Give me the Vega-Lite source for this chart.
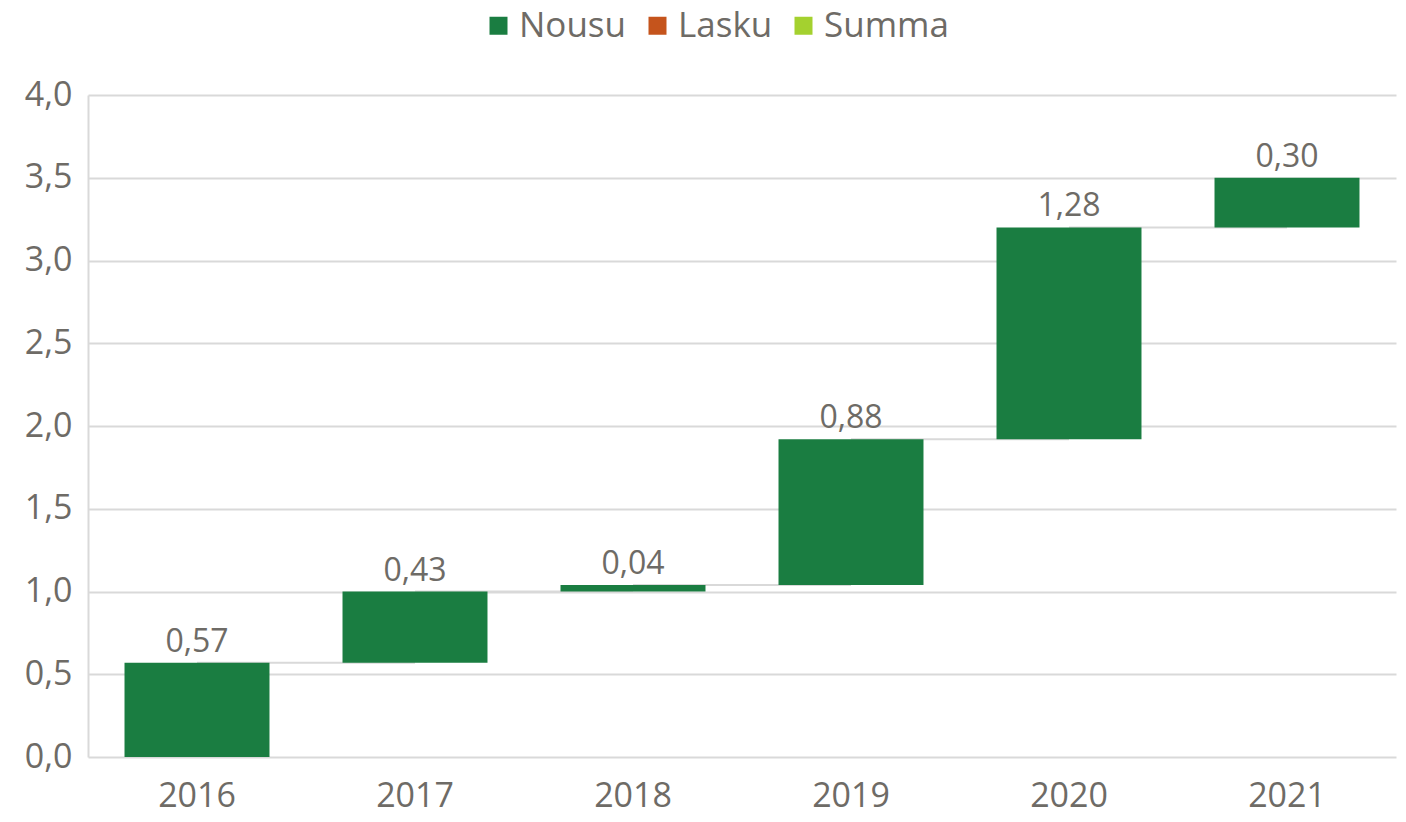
{
  "$schema": "https://vega.github.io/schema/vega-lite/v6.json",
  "width": 1308,
  "height": 662,
  "autosize": {"type": "none"},
  "padding": {"left": 88, "top": 95, "right": 10, "bottom": 65},
  "background": "white",
  "data": {"values": [
    {"year": "2016", "start": 0, "end": 0.57, "value": 0.57, "next": "2017", "type": "Nousu"},
    {"year": "2017", "start": 0.57, "end": 1.0, "value": 0.43, "next": "2018", "type": "Nousu"},
    {"year": "2018", "start": 1.0, "end": 1.04, "value": 0.04, "next": "2019", "type": "Nousu"},
    {"year": "2019", "start": 1.04, "end": 1.92, "value": 0.88, "next": "2020", "type": "Nousu"},
    {"year": "2020", "start": 1.92, "end": 3.2, "value": 1.28, "next": "2021", "type": "Nousu"},
    {"year": "2021", "start": 3.2, "end": 3.5, "value": 0.3, "next": null, "type": "Nousu"}
  ]},
  "encoding": {
    "x": {"field": "year", "type": "ordinal", "sort": null,
      "scale": {"paddingInner": 0.335, "paddingOuter": 0.1675},
      "axis": {"title": null, "labelAngle": 0, "domain": false, "ticks": false, "grid": false,
        "labelFontSize": 34, "labelColor": "#6e6b66", "labelFont": "Open Sans", "labelPadding": 22}}
  },
  "layer": [
    {
      "transform": [{"filter": "datum.next != null"}],
      "mark": {"type": "rule", "color": "#d9d9d9", "strokeWidth": 2},
      "encoding": {
        "x2": {"field": "next"},
        "y": {"field": "end", "type": "quantitative"}
      }
    },
    {
      "mark": {"type": "bar"},
      "encoding": {
        "y": {"field": "start", "type": "quantitative",
          "scale": {"domain": [0, 4], "nice": false},
          "axis": {"title": null, "values": [0, 0.5, 1, 1.5, 2, 2.5, 3, 3.5, 4], "format": ".1f",
            "ticks": false, "domain": true, "domainColor": "#d9d9d9", "domainWidth": 2,
            "grid": true, "gridColor": "#d9d9d9", "gridWidth": 2,
            "labelFontSize": 34, "labelColor": "#6e6b66", "labelFont": "Open Sans", "labelPadding": 16}},
        "y2": {"field": "end"},
        "color": {"field": "type", "type": "nominal",
          "scale": {"domain": ["Nousu", "Lasku", "Summa"], "range": ["#1a7d41", "#c5541c", "#a4d12f"]},
          "legend": {"title": null, "orient": "none", "direction": "horizontal", "legendX": 393, "legendY": -87,
            "symbolType": "square", "symbolSize": 324, "symbolStrokeWidth": 0, "symbolOpacity": 1,
            "labelFontSize": 35, "labelColor": "#6e6b66", "labelFont": "Open Sans", "labelOffset": 3, "columnPadding": 13}}
      }
    },
    {
      "mark": {"type": "text", "baseline": "bottom", "dy": -4, "fontSize": 32, "color": "#6e6b66", "font": "Open Sans"},
      "encoding": {
        "y": {"field": "end", "type": "quantitative"},
        "text": {"field": "value", "type": "quantitative", "format": ".2f"}
      }
    }
  ],
  "config": {
    "view": {"stroke": null},
    "locale": {"number": {"decimal": ",", "thousands": " ", "grouping": [3], "currency": ["", " €"]}}
  }
}
